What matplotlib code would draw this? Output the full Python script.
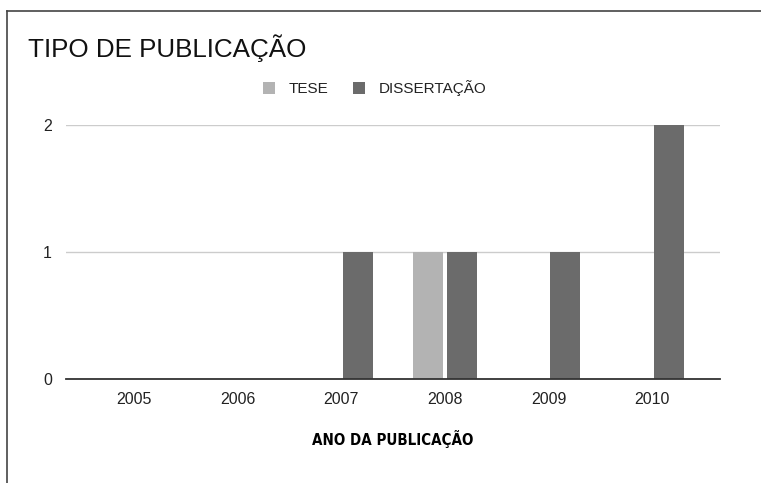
import numpy as np
import matplotlib
matplotlib.use('Agg')
from matplotlib import pyplot as plt
from matplotlib.lines import Line2D

plt.rcParams['font.family'] = ['Liberation Sans', 'DejaVu Sans']

anos = ['2005', '2006', '2007', '2008', '2009', '2010']
tese = [0, 0, 0, 1, 0, 0]
dissertacao = [0, 0, 1, 1, 1, 2]
y_ticks = [0, 1, 2]

cor_tese = '#b3b3b3'
cor_diss = '#6b6b6b'

fig = plt.figure(figsize=(7.61, 4.83), dpi=100)
ax = fig.add_axes([66 / 761, 104 / 483, 654 / 761, 254 / 483])

x = np.arange(len(anos))
largura = 0.29
desloc = 0.163
ax.bar(x - desloc, tese, largura, color=cor_tese, label='TESE', zorder=3)
ax.bar(x + desloc, dissertacao, largura, color=cor_diss, label='DISSERTAÇÃO', zorder=3)

ax.set_xlim(-0.655, 5.655)
ax.set_ylim(0, 2)
ax.set_xticks(x)
ax.set_xticklabels(anos, fontsize=11.5, color='#222222')
ax.set_yticks(y_ticks)
ax.set_yticklabels([str(v) for v in y_ticks], fontsize=11.5, color='#222222')
ax.tick_params(length=0, pad=10)
ax.tick_params(axis='x', pad=9)

ax.grid(axis='y', color='#cccccc', linewidth=1, zorder=0)
for s in ['top', 'right', 'left']:
    ax.spines[s].set_visible(False)
ax.spines['bottom'].set_color('#333333')
ax.spines['bottom'].set_linewidth(1.3)
ax.spines['bottom'].set_zorder(4)

ax.set_xlabel('ANO DA PUBLICAÇÃO', fontsize=10.8, fontweight='bold',
              family='DejaVu Sans', fontstretch='condensed', labelpad=17)

fig.text(28 / 761, 1 - 57 / 483, 'TIPO DE PUBLICAÇÃO', fontsize=18.7, color='#111111',
         ha='left', va='baseline')

fig.legend(loc='center', bbox_to_anchor=(375 / 761, 1 - 88 / 483), ncol=2, frameon=False,
           fontsize=11, handlelength=0.8, handleheight=0.8, handletextpad=0.9,
           columnspacing=1.6, labelcolor='#222222')

# borda da captura (topo e esquerda)
fig.add_artist(Line2D([6.5 / 761, 1], [1 - 10.5 / 483] * 2, color='#444444', linewidth=1.2))
fig.add_artist(Line2D([6.5 / 761] * 2, [0, 1 - 10.5 / 483], color='#444444', linewidth=1.2))

plt.savefig('out.png', dpi=100)
plt.close()
